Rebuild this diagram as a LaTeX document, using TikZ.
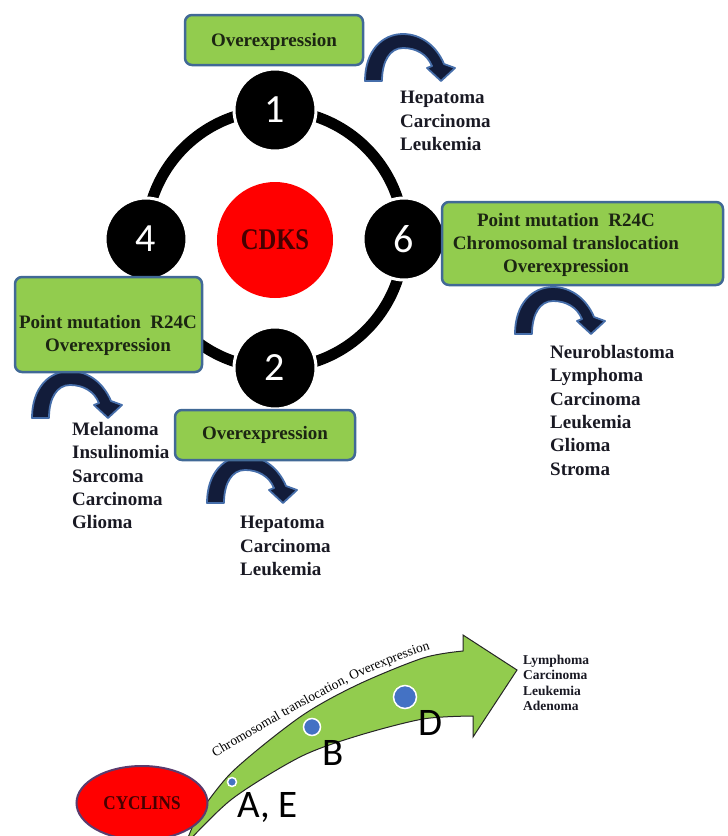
\documentclass[tikz,border=0pt]{standalone}
\usepackage{fontspec}
\setmainfont{Liberation Serif}
\newfontfamily\calib{Carlito}
\newfontfamily\condserif[FakeStretch=0.82]{Liberation Serif}
\newfontfamily\cycserif[FakeStretch=0.88]{Liberation Serif}
\usetikzlibrary{decorations.text,shapes.geometric}
\definecolor{gfill}{RGB}{146,204,78}
\definecolor{gborder}{RGB}{65,105,150}
\definecolor{navy}{RGB}{18,28,58}
\definecolor{navyedge}{RGB}{70,110,170}
\definecolor{darktext}{RGB}{25,25,35}
\definecolor{boxtext}{RGB}{28,38,18}
\definecolor{dred}{RGB}{70,0,0}
\definecolor{dotblue}{RGB}{68,114,196}
\definecolor{ellborder}{RGB}{90,60,110}
\begin{document}
\begin{tikzpicture}[x=1pt,y=-1pt,
  gbox/.style={draw=gborder, line width=2.5pt, fill=gfill, rounded corners=7pt, inner sep=0pt},
  btext/.style={font=\fontsize{19}{23}\selectfont\bfseries, text=boxtext, align=center, inner sep=0pt},
  ltext/.style={font=\fontsize{19}{23.4}\selectfont\bfseries, text=darktext, align=left, inner sep=0pt, anchor=north west},
  numnode/.style={circle, fill=black, draw=white, line width=3pt, minimum size=82pt, inner sep=0pt, font=\calib\fontsize{40}{40}\selectfont, text=white},
  bluearc/.style={fill=navy, draw=navyedge, line width=1.8pt, line join=round},
  dot/.style={circle, fill=dotblue, draw=white, line width=1.5pt, inner sep=0pt},
  letter/.style={font=\calib\fontsize{39}{39}\selectfont, anchor=base west, inner sep=0pt},
  barc/.pic={\path[bluearc] (0,0) .. controls (0,-30) and (17,-47) .. (38,-47)
      .. controls (57,-47) and (72,-34) .. (79,-17) -- (90,-13) -- (76,0) -- (62,-13) -- (67,-15)
      .. controls (62,-27) and (51,-33) .. (38,-33) .. controls (25,-33) and (17,-20) .. (17,0) -- cycle;}
]
\useasboundingbox (0,0) rectangle (728,836);

% ring
\coordinate (rc) at (275,239);
\draw[line width=11pt] (rc) circle[radius=129];
\node[circle, fill=red, minimum size=116pt, inner sep=0pt, font=\condserif\bfseries\fontsize{30}{30}\selectfont, text=dred] (cdks) at (275,240) {CDKS};
\node[numnode] (n1) at (275,110) {1};
\node[numnode] (n4) at (146,239) {4};
\node[numnode] (n6) at (404,239) {6};
\node[numnode] (n2) at (275,368) {2};

% curved arrows
\pic at (365,81) {barc};
\pic at (515,334) {barc};
\pic at (32,418) {barc};
\pic at (207,503) {barc};

% boxes
\node[gbox, minimum width=178pt, minimum height=50pt] (b1) at (274,40) {};
\node[btext] (t1) at (274,42) {Overexpression};
\node[gbox, minimum width=187pt, minimum height=95pt] (b4) at (108.5,324.5) {};
\node[btext] (t4) at (108,335) {Point mutation\ \ R24C\\Overexpression};
\node[gbox, minimum width=281pt, minimum height=83pt] (b6) at (582.5,243.5) {};
\node[btext] (t6) at (566,245) {Point mutation\ \ R24C\\Chromosomal translocation\\Overexpression};
\node[gbox, minimum width=180pt, minimum height=50pt] (b2) at (265,435) {};
\node[btext] (t2) at (265,435) {Overexpression};

% lists
\node[ltext] (l1) at (400,91) {Hepatoma\\Carcinoma\\Leukemia};
\node[ltext] (l6) at (550,345) {Neuroblastoma\\Lymphoma\\Carcinoma\\Leukemia\\Glioma\\Stroma};
\node[ltext] (l4) at (72,422) {Melanoma\\Insulinomia\\Sarcoma\\Carcinoma\\Glioma};
\node[ltext] (l2) at (240,516) {Hepatoma\\Carcinoma\\Leukemia};

% bottom green arrow
\filldraw[fill=gfill, draw=black!85, line width=1pt, line join=miter]
  plot[smooth] coordinates {(196,818) (232,772) (300,717) (357,685) (423,658) (463,651)}
  -- (463,635) -- (517,670) -- (473,737) -- (473,716)
  -- plot[smooth] coordinates {(473,716) (423,719) (357,736) (300,757) (232,799) (185,845)}
  -- cycle;
\path[decorate, decoration={text along path, text align=left,
  text={|\fontsize{13.5}{14}\selectfont|Chromosomal translocation, Overexpression}}]
  (215,757) .. controls (290,714) and (360,669) .. (444,645);
\node[dot, minimum size=9pt] (da) at (232,782) {};
\node[dot, minimum size=17pt] (db) at (312,727) {};
\node[dot, minimum size=23pt] (dd) at (405,697) {};
\node[ellipse, fill=red, draw=ellborder, line width=2pt, minimum width=131pt, minimum height=74pt, inner sep=0pt,
  font=\cycserif\bfseries\fontsize{19.5}{20}\selectfont, text=dred] (cyc) at (142,803) {CYCLINS};
\node[letter] (la) at (237,817) {A, E};
\node[letter] (lb) at (322,765) {B};
\node[letter] (ld) at (418,735) {D};
\node[font=\fontsize{13.5}{15.5}\selectfont\bfseries, text=darktext, align=left, anchor=north west, inner sep=0pt] (lr) at (523,654.5) {Lymphoma\\Carcinoma\\Leukemia\\Adenoma};
\end{tikzpicture}
\end{document}
